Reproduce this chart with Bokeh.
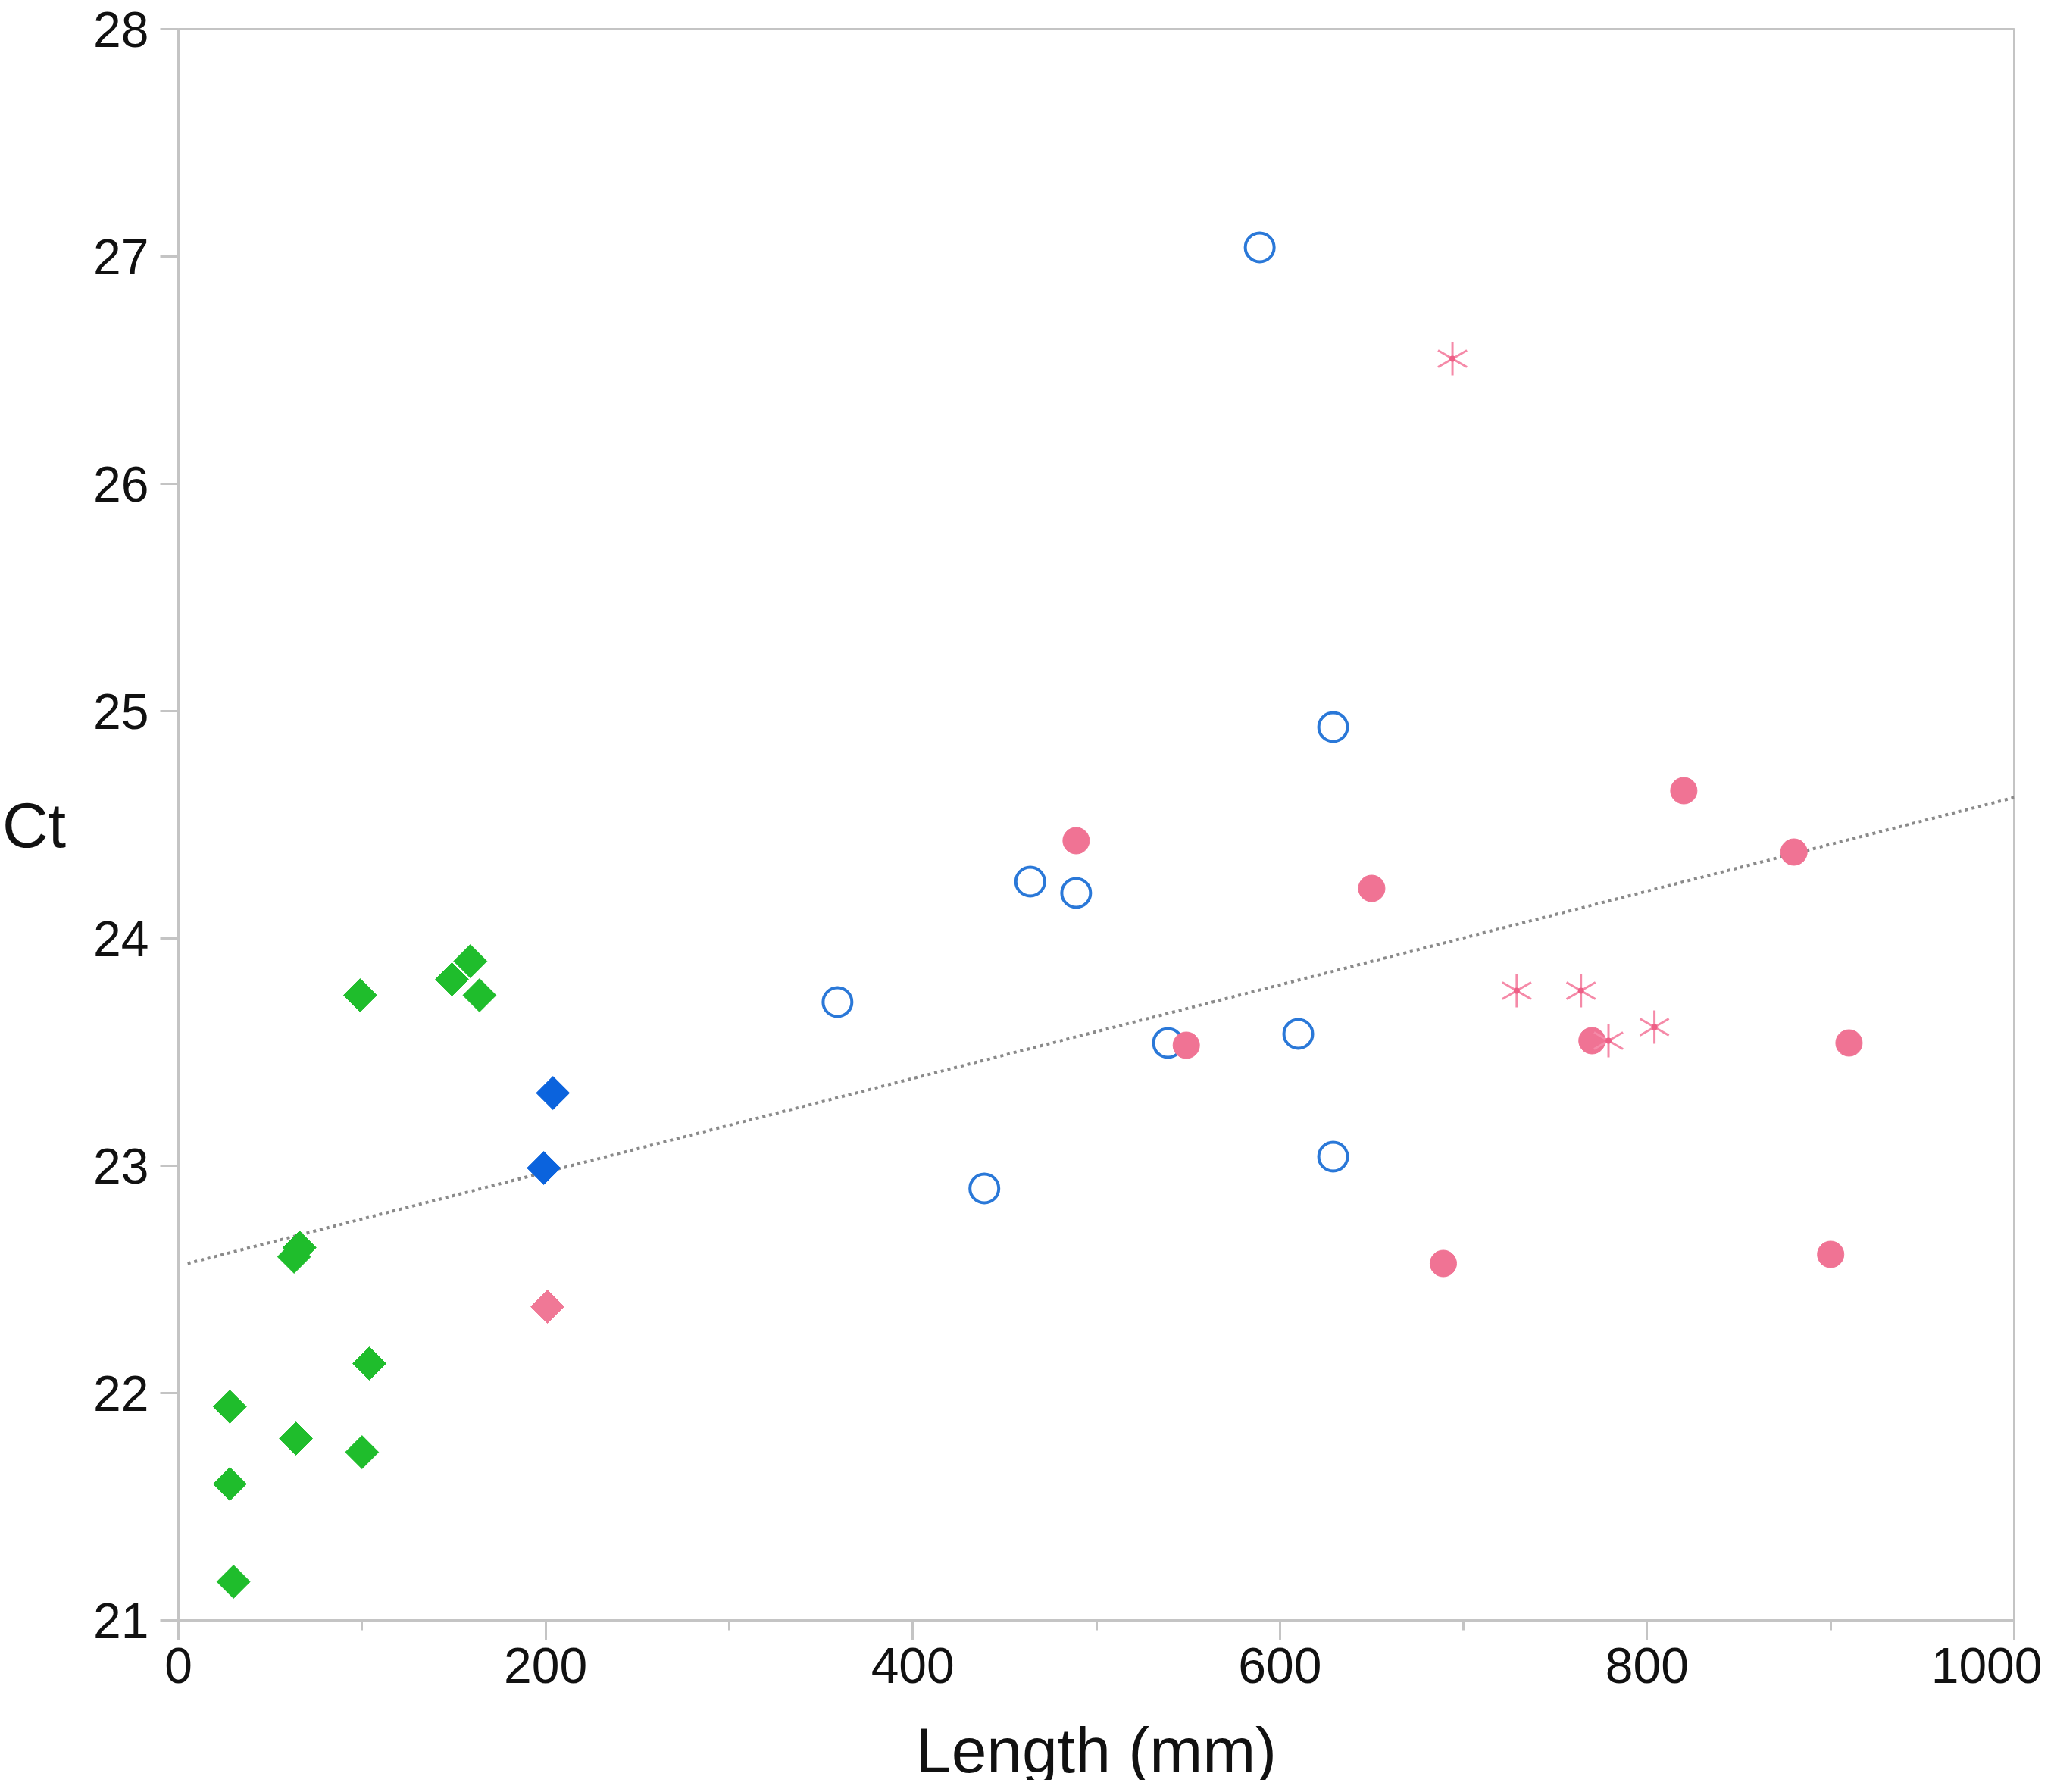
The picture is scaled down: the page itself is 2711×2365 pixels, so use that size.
import numpy as np
from bokeh.plotting import figure
from bokeh.layouts import column
from bokeh.models import FixedTicker, Range1d
from bokeh.core.properties import value
from bokeh.embed import file_html
from bokeh.resources import INLINE

# ---- data ----
green_x = [28, 28, 30, 64, 100, 104, 63, 66, 99, 149, 159, 164]
green_y = [21.94, 21.60, 21.17, 21.80, 21.74, 22.13, 22.60, 22.64, 23.75, 23.82, 23.90, 23.75]

blue_dia_x = [204, 199]
blue_dia_y = [23.32, 22.99]

pink_dia_x = [201]
pink_dia_y = [22.38]

open_x = [589, 629, 464, 489, 359, 539, 610, 629, 439]
open_y = [27.04, 24.93, 24.25, 24.20, 23.72, 23.54, 23.58, 23.04, 22.90]

pink_x = [489, 650, 820, 880, 549, 770, 910, 689, 900]
pink_y = [24.43, 24.22, 24.65, 24.38, 23.53, 23.55, 23.54, 22.57, 22.61]

star_x = [694, 729, 764, 779, 804]
star_y = [26.55, 23.77, 23.77, 23.55, 23.61]

reg_x = [5, 1000]
reg_y = [22.57, 24.62]

x_ticks = [0, 200, 400, 600, 800, 1000]
x_minor = [100, 300, 500, 700, 900]
y_ticks = [21, 22, 23, 24, 25, 26, 27, 28]
x_title = "Length (mm)"
y_title = "Ct"

FONT = "Liberation Sans"
AX = "#c4c4c4"
TXT = "#111111"

W = 2695
MAIN_H = 2252
TITLE_H = 97
TITLE_BASELINE = 40
BORDER_L, BORDER_R = 229, 37

p = figure(width=W, height=MAIN_H, output_backend="svg", toolbar_location=None,
           x_range=Range1d(0, 1000), y_range=Range1d(21, 28),
           min_border_left=BORDER_L, min_border_right=BORDER_R,
           min_border_top=38, min_border_bottom=114)

p.background_fill_color = "white"
p.border_fill_color = "white"
p.xgrid.visible = False
p.ygrid.visible = False
p.outline_line_color = AX
p.outline_line_width = 3

# x axis
xa = p.xaxis[0]
xa.ticker = FixedTicker(ticks=x_ticks, minor_ticks=x_minor)
xa.major_label_text_font = FONT
xa.major_label_text_font_size = "66px"
xa.major_label_text_color = TXT
xa.major_label_standoff = 10
xa.axis_line_color = AX
xa.axis_line_width = 3
xa.major_tick_line_color = AX
xa.major_tick_line_width = 3
xa.major_tick_in = 0
xa.major_tick_out = 26
xa.minor_tick_line_color = AX
xa.minor_tick_line_width = 3
xa.minor_tick_in = 0
xa.minor_tick_out = 13

# y axis
ya = p.yaxis[0]
ya.ticker = FixedTicker(ticks=y_ticks)
ya.axis_label = y_title
ya.axis_label_orientation = "horizontal"
ya.axis_label_text_font = FONT
ya.axis_label_text_font_size = "84px"
ya.axis_label_text_font_style = "normal"
ya.axis_label_text_color = TXT
ya.axis_label_standoff = 33
ya.major_label_text_font = FONT
ya.major_label_text_font_size = "66px"
ya.major_label_text_color = TXT
ya.major_label_standoff = 15
ya.axis_line_color = AX
ya.axis_line_width = 3
ya.axis_line_dash = "6 4"
ya.major_tick_line_color = AX
ya.major_tick_line_width = 3
ya.major_tick_in = 0
ya.major_tick_out = 24
ya.minor_tick_line_color = None

# regression line
p.line(reg_x, reg_y, line_color="#8a8a8a", line_width=4, line_dash="4 5")

# markers
p.scatter(green_x, green_y, marker="square", angle=np.pi / 4, size=31,
          fill_color="#1fbd2c", line_color="#1fbd2c", line_width=1)
p.scatter(blue_dia_x, blue_dia_y, marker="square", angle=np.pi / 4, size=31,
          fill_color="#0b63dd", line_color="#0b63dd", line_width=1)
p.scatter(pink_dia_x, pink_dia_y, marker="square", angle=np.pi / 4, size=31,
          fill_color="#f07896", line_color="#f07896", line_width=1)
p.scatter(open_x, open_y, marker="circle", size=38, fill_color=None,
          line_color="#2a78d8", line_width=4)
p.scatter(pink_x, pink_y, marker="circle", size=35,
          fill_color="#f07394", line_color="#f07394", line_width=1)
for ang in (np.pi / 2, np.pi / 6, -np.pi / 6):
    p.scatter(star_x, star_y, marker="dash", angle=ang, size=44,
              line_color="#f58aa8", line_width=3)
p.scatter(star_x, star_y, marker="circle", size=8, fill_color="#ee5f86",
          line_color=None)

# x-axis title strip, directly below the chart, same horizontal frame
t = figure(width=W, height=TITLE_H, output_backend="svg", toolbar_location=None,
           x_range=Range1d(0, 1000), y_range=Range1d(0, TITLE_H),
           x_axis_type=None, y_axis_type=None,
           min_border_left=BORDER_L, min_border_right=BORDER_R,
           min_border_top=0, min_border_bottom=0)
t.outline_line_color = None
t.background_fill_color = "white"
t.border_fill_color = "white"
t.text(x=[500], y=[TITLE_BASELINE], text=[x_title], text_font=value(FONT),
       text_font_size=value("84px"), text_color=TXT,
       text_align="center", text_baseline="alphabetic")

layout = column(p, t, spacing=0)
open("out.html", "w").write(file_html(layout, INLINE))
